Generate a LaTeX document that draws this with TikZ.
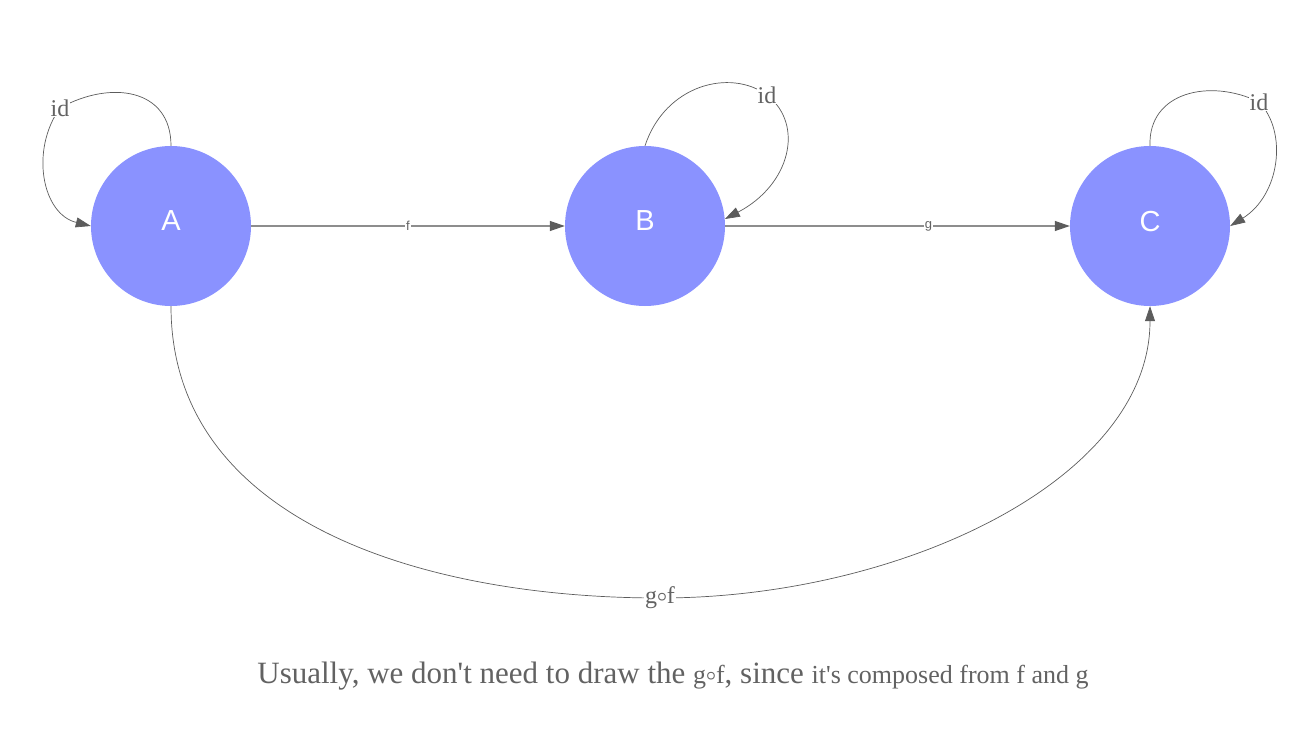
\documentclass[tikz,border=0pt]{standalone}
\usepackage{fontspec}
\setmainfont{Liberation Serif}
\newfontfamily\objfont{Liberation Sans}
\usetikzlibrary{arrows.meta}

\definecolor{objblue}{HTML}{8A92FF}
\definecolor{wiregray}{HTML}{5C5C5C}
\definecolor{inkgray}{HTML}{626262}

\begin{document}
\begin{tikzpicture}[x=1pt, y=-1pt,
obj/.style={circle, fill=objblue, minimum size=160pt, inner sep=0pt,
  text=white, text depth=10pt, font=\objfont\fontsize{29}{30}\selectfont},
morph/.style={draw=wiregray, line width=0.7pt,
  -{Triangle[length=15pt, width=10pt, color=wiregray]}},
flat/.style={morph, draw=wiregray!70, line width=1.2pt},
idlabel/.style={fill=white, inner sep=1pt, text=inkgray,
  font=\fontsize{24}{26}\selectfont},
mlabel/.style={fill=white, inner sep=1pt, text=inkgray,
  font=\objfont\fontsize{13}{14}\selectfont}]

\def\big{\fontsize{31}{32}\selectfont}
\def\mid{\fontsize{26}{27}\selectfont}
\def\comp{g\raisebox{0.25ex}{\fontsize{17}{17}\selectfont\boldmath$\circ$}f}

% canvas
\useasboundingbox (0,0) rectangle (1316,746);

% objects
\node[obj] (A) at (171,226) {A};
\node[obj] (B) at (645,226) {B};
\node[obj] (C) at (1150,226) {C};

% morphisms
\draw[flat] (A) -- node[mlabel]{f} (B);
\draw[flat] (B) -- node[mlabel, pos=0.59]{g} (C);

% identities
\draw[morph] (A.north) .. controls (171,88) and (110,80) .. (60,108)
  node[idlabel]{id} .. controls (30,150) and (42,214) .. (A.west);
\draw[morph] (B.north) .. controls (665,85) and (730,68) .. (767,95)
  node[idlabel]{id} .. controls (805,125) and (790,185) .. (B.5);
\draw[morph] (C.north) .. controls (1148,92) and (1210,78) .. (1259,102)
  node[idlabel]{id} .. controls (1288,132) and (1280,195) .. (C.east);

% composite
\coordinate (gf) at (660,598);
\draw[morph] (A) .. controls (171,520) and (420,598) .. (gf)
  node[idlabel]{\comp} .. controls (900,598) and (1150,480) .. (C);

% caption
\node[anchor=base, text=inkgray, inner sep=0pt] (note) at (673,683)
  {\big Usually, we don\textquotesingle t need to draw the {\mid\comp}, since
   {\mid it\textquotesingle s composed from f and g}};

\end{tikzpicture}
\end{document}
